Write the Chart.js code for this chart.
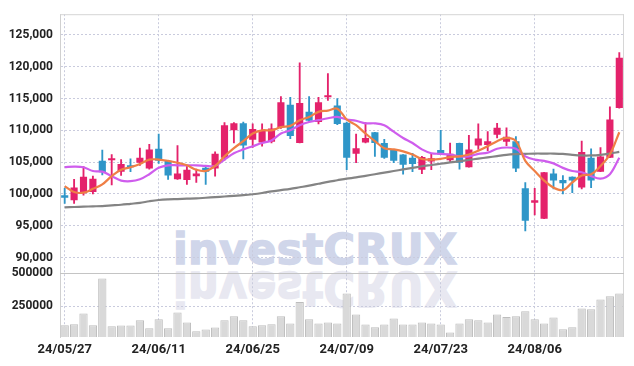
<!DOCTYPE html>
<html>
<head>
<meta charset="utf-8">
<script src="https://cdn.jsdelivr.net/npm/chart.js@4.4.1/dist/chart.umd.min.js"></script>
<style>
html,body{margin:0;padding:0;background:#fff;}
#wrap{position:relative;width:634px;height:366px;overflow:hidden;background:#fff;}
.wm{position:absolute;left:173px;top:228px;font-family:"DejaVu Sans",sans-serif;font-weight:bold;font-size:43px;line-height:43px;white-space:nowrap;letter-spacing:0.3px;}
#wm1{color:#d0d6ea;-webkit-text-stroke:1.4px #d0d6ea;}
#wm2{top:236px;color:#e8e8f1;-webkit-text-stroke:1.4px #e8e8f1;transform-origin:0 36px;transform:scaleY(-1.1);}
#c{position:absolute;left:0;top:0;}
</style>
</head>
<body>
<div id="wrap">
  <div class="wm" id="wm1">investCRUX</div>
  <div class="wm" id="wm2">investCRUX</div>
  <canvas id="c" width="634" height="366"></canvas>
</div>
<script>
const labels = ["24/05/27","24/05/28","24/05/29","24/05/30","24/05/31","24/06/03","24/06/04","24/06/05","24/06/07","24/06/10",
"24/06/11","24/06/12","24/06/13","24/06/14","24/06/17","24/06/18","24/06/19","24/06/20","24/06/21","24/06/24",
"24/06/25","24/06/26","24/06/27","24/06/28","24/07/01","24/07/02","24/07/03","24/07/04","24/07/05","24/07/08",
"24/07/09","24/07/10","24/07/11","24/07/12","24/07/15","24/07/16","24/07/17","24/07/18","24/07/19","24/07/22",
"24/07/23","24/07/24","24/07/25","24/07/26","24/07/29","24/07/30","24/07/31","24/08/01","24/08/02","24/08/05",
"24/08/06","24/08/07","24/08/08","24/08/09","24/08/12","24/08/13","24/08/14","24/08/16","24/08/19","24/08/20"];

const opens  = [99800,99000,100100,100300,105200,105300,103500,104400,104900,104000,
107100,105200,102300,102200,102800,104100,104000,105700,110000,111100,
108500,108100,108200,110500,114000,108000,112900,111300,115200,113900,
111200,106300,108100,109700,108000,106900,106200,105700,103800,105100,
106900,105300,108000,104200,107600,107700,109300,108200,108300,100900,
98600,96100,103200,102200,102700,101000,105700,103500,105700,113500];
const highs  = [100900,102300,104300,102800,106900,106200,105400,105500,107200,107800,
109400,105200,107600,104400,103900,104200,106600,111200,111200,111300,
111000,111000,111000,115300,115200,120600,115300,115200,118900,115000,
111300,109400,111200,109700,108600,107000,106200,106400,105900,106400,
110000,108000,108000,109200,111000,109800,111100,110400,109000,101800,
100900,103400,103900,102900,102700,108300,107100,107300,113700,122200];
const lows   = [98500,98500,99800,100000,103000,101400,102900,103500,104500,103900,
104800,102300,102300,101500,101800,101500,102800,105300,108000,105500,
107300,107500,108000,110300,108700,108000,111400,111000,114700,110900,
103800,104900,108000,105900,105600,104900,103100,103500,103200,103800,
106200,104900,103900,104200,107000,106800,108800,107600,103500,94200,
96700,96100,100800,100000,100200,100800,101000,103500,105700,113500];
const closes = [99400,101000,102700,102400,103400,105600,104700,104200,105700,107000,
105200,102900,103200,103800,103200,103500,106300,110800,111100,107600,
110200,110000,110300,114400,109100,114300,111500,114400,115400,111000,
105700,107200,108800,108000,105700,105200,104600,104700,105800,105600,
106200,106300,104900,107000,108700,108300,110400,109000,104000,95800,
99000,103400,102100,101700,102100,106600,102100,105900,111700,121400];

const ma5  = [101200,100300,100200,100800,101500,102800,103800,104200,104700,105400,
105400,105200,104900,104500,103800,103600,104400,105900,107200,108300,
109500,110000,110000,110500,110700,111600,112100,112900,113100,113400,
111700,110800,109500,108300,107200,107000,106700,106200,105500,105400,
105500,105800,105900,106200,106800,107500,108300,108800,108300,105200,
103600,102100,101000,100600,101800,102900,103100,104400,106200,109700];
const ma20 = [104200,104300,104200,103600,103500,102800,102100,102000,102300,103100,
104100,104500,104500,104500,104500,104400,104400,105400,106400,107000,
107500,108000,108400,109500,110000,110800,111300,111600,111900,112100,
111700,111500,111100,111100,110800,109800,108800,108000,107000,106400,
106300,106200,105900,105900,106300,106500,107100,107300,107100,105900,
105400,105200,104800,104100,103600,103400,102800,102400,103100,105700];
const ma60 = [97900,97950,98000,98050,98100,98200,98300,98450,98600,98850,
99050,99150,99200,99250,99300,99400,99500,99600,99700,99800,
99950,100150,100400,100600,100800,101050,101300,101600,101900,102150,
102400,102600,102850,103100,103350,103600,103850,104100,104350,104550,
104750,104950,105150,105350,105550,105750,105950,106150,106250,106300,
106350,106350,106350,106300,106150,106050,106050,106150,106350,106600];

const volumes = [107800,115000,195700,107800,458500,100300,105600,105600,145400,85300,
152900,85300,203200,128100,62800,75600,90600,145400,175400,145400,
100300,107800,115000,175400,120600,282800,152900,120600,128100,120600,
345800,188200,113100,92800,113100,158200,113100,113100,128100,120600,
113100,53000,120600,152900,145400,128100,188200,170200,175400,213000,
152900,120600,165700,77800,92800,233200,228000,300800,325600,345800];

const priceTicks = [90000,95000,100000,105000,110000,115000,120000,125000];
const volumeTicks = [250000,500000];

const UP = '#e4226b', DOWN = '#2f96c8';
const candleColors = opens.map((o,i)=> closes[i] >= o ? UP : DOWN);
const GRID = '#c9cbdd';
const TICKFONT = {family:'Roboto, "Liberation Sans", sans-serif', size:12, weight:'bold'};

const framePlugin = {
  id:'frame',
  beforeDatasetsDraw(chart){
    const {ctx, chartArea:a} = chart;
    const ySep = chart.scales.y.bottom;
    ctx.save();
    ctx.lineWidth = 1;
    ctx.strokeStyle = '#d6d6d6';
    ctx.beginPath();
    ctx.moveTo(a.left, a.top+0.5); ctx.lineTo(a.right, a.top+0.5);
    ctx.moveTo(a.right-0.5, a.top); ctx.lineTo(a.right-0.5, a.bottom);
    ctx.stroke();
    ctx.strokeStyle = '#c4c4c4';
    ctx.beginPath();
    ctx.moveTo(a.left, Math.round(ySep)+0.5); ctx.lineTo(a.right, Math.round(ySep)+0.5);
    ctx.stroke();
    ctx.restore();
  }
};

new Chart(document.getElementById('c'), {
  data: {
    labels: labels,
    datasets: [
      { type:'line', label:'MA5', data: ma5, yAxisID:'y', borderColor:'#ef7f45', borderWidth:2.2, pointRadius:0, tension:0.35, order:1 },
      { type:'line', label:'MA20', data: ma20, yAxisID:'y', borderColor:'#cf5ded', borderWidth:2.2, pointRadius:0, tension:0.35, order:1 },
      { type:'line', label:'MA60', data: ma60, yAxisID:'y', borderColor:'#848484', borderWidth:2.2, pointRadius:0, tension:0.35, order:1 },
      { type:'bar', label:'body', data: opens.map((o,i)=>[o, closes[i]]), yAxisID:'y',
        backgroundColor: candleColors, borderColor: candleColors, borderWidth:0, borderSkipped:false,
        barPercentage:0.76, categoryPercentage:1, grouped:false, minBarLength:2, order:2 },
      { type:'bar', label:'wick', data: lows.map((l,i)=>[l, highs[i]]), yAxisID:'y',
        backgroundColor: candleColors, borderWidth:0, barThickness:1.2, grouped:false, order:3 },
      { type:'bar', label:'volume', data: volumes, yAxisID:'yv',
        backgroundColor:'#d9d9d9', borderColor:'#bdbdbd', borderWidth:1, borderSkipped:false,
        barPercentage:0.88, categoryPercentage:1, grouped:false, order:4 }
    ]
  },
  options: {
    responsive:false,
    animation:false,
    layout:{ padding:{ top:9, right:10, left:0, bottom:0 } },
    plugins:{ legend:{display:false}, tooltip:{enabled:false} },
    scales:{
      x:{
        type:'category', offset:true,
        grid:{ offset:false, drawTicks:false, color:(c)=> (c.index % 10 === 0 ? GRID : 'rgba(0,0,0,0)') },
        border:{ display:false, dash:[2,2] },
        ticks:{ autoSkip:false, maxRotation:0, padding:5, color:'#222', font:{...TICKFONT, size:13},
          callback:(v,i)=> (i % 10 === 0 ? labels[i] : '') },
        afterFit:(s)=>{ s.height = 29; }
      },
      y:{
        type:'linear', position:'left', stack:'main', stackWeight:263, weight:2,
        min:87570, max:128250,
        afterBuildTicks:(s)=>{ s.ticks = priceTicks.map(v=>({value:v})); },
        grid:{ drawTicks:false, color:GRID },
        border:{ display:true, color:'#d0d0d0', dash:[2,2] },
        ticks:{ padding:7, color:'#222', font:TICKFONT, callback:(v)=> v.toLocaleString('en-US') },
        afterFit:(s)=>{ s.width = 60; }
      },
      yv:{
        type:'linear', position:'left', stack:'main', stackWeight:65, weight:1,
        min:20000, max:500000,
        afterBuildTicks:(s)=>{ s.ticks = volumeTicks.map(v=>({value:v})); },
        grid:{ drawTicks:false, color:GRID },
        border:{ display:true, color:'#d0d0d0', dash:[2,2] },
        ticks:{ padding:7, color:'#222', font:TICKFONT, callback:(v)=> String(v) },
        afterFit:(s)=>{ s.width = 60; }
      }
    }
  },
  plugins:[framePlugin]
});
</script>
</body>
</html>
